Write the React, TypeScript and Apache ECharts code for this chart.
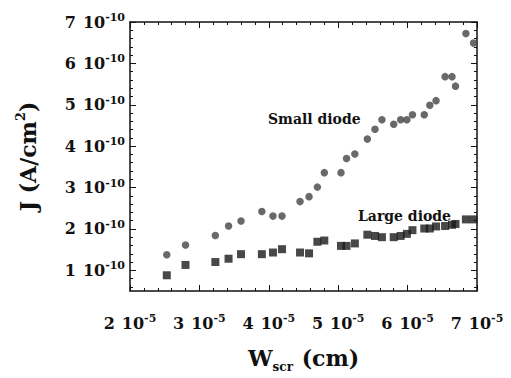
import React, { useEffect, useRef } from "react";
import * as echarts from "echarts";

// W_scr in units of 1e-5 cm
const widthE5 = [2.53, 2.8, 3.23, 3.42, 3.6, 3.9, 4.06, 4.19, 4.45, 4.58, 4.7, 4.8, 5.04, 5.12, 5.24, 5.42, 5.53, 5.63, 5.8, 5.9, 5.99, 6.07, 6.24, 6.32, 6.41, 6.54, 6.64, 6.69, 6.84, 6.95];
// J in units of 1e-10 A/cm^2
const smallDiode = [1.375, 1.61, 1.84, 2.07, 2.19, 2.42, 2.31, 2.31, 2.66, 2.78, 3.01, 3.36, 3.36, 3.7, 3.81, 4.17, 4.41, 4.64, 4.53, 4.64, 4.64, 4.76, 4.76, 4.99, 5.1, 5.68, 5.68, 5.45, 6.72, 6.49];
const largeDiode = [0.88, 1.13, 1.2, 1.28, 1.39, 1.39, 1.43, 1.51, 1.43, 1.41, 1.69, 1.72, 1.59, 1.59, 1.65, 1.86, 1.83, 1.8, 1.8, 1.83, 1.88, 1.97, 2.01, 2.01, 2.06, 2.07, 2.1, 2.12, 2.23, 2.23];

const yMajorTicks = [1, 2, 3, 4, 5, 6, 7];
const yMinorTicks = [0.6, 0.8, 1.2, 1.4, 1.6, 1.8, 2.2, 2.4, 2.6, 2.8, 3.2, 3.4, 3.6, 3.8, 4.2, 4.4, 4.6, 4.8, 5.2, 5.4, 5.6, 5.8, 6.2, 6.4, 6.6, 6.8];
const xExponent = "-5";
const yExponent = "-10";

const FONT = "'DejaVu Serif', 'Liberation Serif', serif";
const INK = "#111";

export default function App() {
  const ref = useRef<HTMLDivElement>(null);
  useEffect(() => {
    if (!ref.current) return;
    const chart = echarts.init(ref.current, undefined, { renderer: "svg" });
    const labelRich = {
      n: { fontFamily: FONT, fontWeight: "bold", fontSize: 16, color: INK, padding: [0, 7, 0, 0], lineHeight: 20 },
      b: { fontFamily: FONT, fontWeight: "bold", fontSize: 16, color: INK, lineHeight: 20 },
      s: { fontFamily: FONT, fontWeight: "bold", fontSize: 11, color: INK, verticalAlign: "top", lineHeight: 14 },
    };
    const frameLine = { show: true, onZero: false, lineStyle: { color: INK, width: 1.5 } };
    const baseY = {
      type: "value",
      min: 0.5,
      max: 7,
      splitLine: { show: false },
    };
    const baseX = {
      type: "value",
      min: 2,
      max: 7,
      interval: 1,
      splitLine: { show: false },
      axisLine: frameLine,
      axisTick: { show: true, inside: true, length: 6, lineStyle: { color: INK, width: 1 } },
      minorTick: { show: true, splitNumber: 5, length: 3, lineStyle: { color: INK, width: 1 } },
    };
    chart.setOption({
      animation: false,
      backgroundColor: "#fff",
      grid: { left: 130, right: 34, top: 22, bottom: 77 },
      xAxis: [
        {
          ...baseX,
          position: "bottom",
          axisLabel: {
            margin: 22,
            formatter: (v: number) => `{n|${Math.round(v)}}{b|10}{s|${xExponent}}`,
            rich: labelRich,
          },
          name: "{t|W}{sub|scr}{t| (cm)}",
          nameLocation: "middle",
          nameGap: 52,
          nameTextStyle: {
            rich: {
              t: { fontFamily: FONT, fontWeight: "bold", fontSize: 22, color: INK, lineHeight: 30 },
              sub: { fontFamily: FONT, fontWeight: "bold", fontSize: 12, color: INK, verticalAlign: "bottom", lineHeight: 30, padding: [0, 1, 0, 0] },
            },
          },
        },
        { ...baseX, position: "top", axisLabel: { show: false } },
      ],
      yAxis: [
        {
          ...baseY,
          position: "left",
          axisLine: frameLine,
          axisTick: { show: true, inside: true, length: 6, customValues: yMajorTicks, lineStyle: { color: INK, width: 1 } },
          axisLabel: {
            margin: 5,
            customValues: yMajorTicks,
            formatter: (v: number) => `{n|${Math.round(v)}}{b|10}{s|${yExponent}}`,
            rich: labelRich,
          },
          name: "{t|J (A/cm}{sup|2}{t|)}",
          nameLocation: "middle",
          nameRotate: 90,
          nameGap: 88,
          nameTextStyle: {
            rich: {
              t: { fontFamily: FONT, fontWeight: "bold", fontSize: 22, color: INK, lineHeight: 28 },
              sup: { fontFamily: FONT, fontWeight: "bold", fontSize: 13, color: INK, verticalAlign: "top", lineHeight: 16 },
            },
          },
        },
        {
          ...baseY,
          position: "left",
          axisLine: { show: false },
          axisTick: { show: true, inside: true, length: 3, customValues: yMinorTicks, lineStyle: { color: INK, width: 1 } },
          axisLabel: { show: false },
        },
        {
          ...baseY,
          position: "right",
          axisLine: frameLine,
          axisTick: { show: true, inside: true, length: 6, customValues: yMajorTicks, lineStyle: { color: INK, width: 1 } },
          axisLabel: { show: false },
        },
        {
          ...baseY,
          position: "right",
          axisLine: { show: false },
          axisTick: { show: true, inside: true, length: 3, customValues: yMinorTicks, lineStyle: { color: INK, width: 1 } },
          axisLabel: { show: false },
        },
      ],
      series: [
        {
          name: "Small diode",
          type: "scatter",
          symbol: "circle",
          symbolSize: 7.5,
          itemStyle: { color: "#444444" },
          data: widthE5.map((x, i) => [x, smallDiode[i]]),
        },
        {
          name: "Large diode",
          type: "scatter",
          symbol: "rect",
          symbolSize: 8,
          itemStyle: { color: "#1a1a1a" },
          data: widthE5.map((x, i) => [x, largeDiode[i]]),
        },
      ],
      graphic: [
        {
          type: "text",
          left: 268,
          top: 112,
          style: { text: "Small diode", font: `bold 14px ${FONT}`, fill: INK },
        },
        {
          type: "text",
          left: 358,
          top: 209,
          style: { text: "Large diode", font: `bold 14px ${FONT}`, fill: INK },
        },
      ],
    });
    return () => chart.dispose();
  }, []);
  return <div ref={ref} style={{ width: 511, height: 378, position: "absolute", left: 0, top: 0 }} />;
}
